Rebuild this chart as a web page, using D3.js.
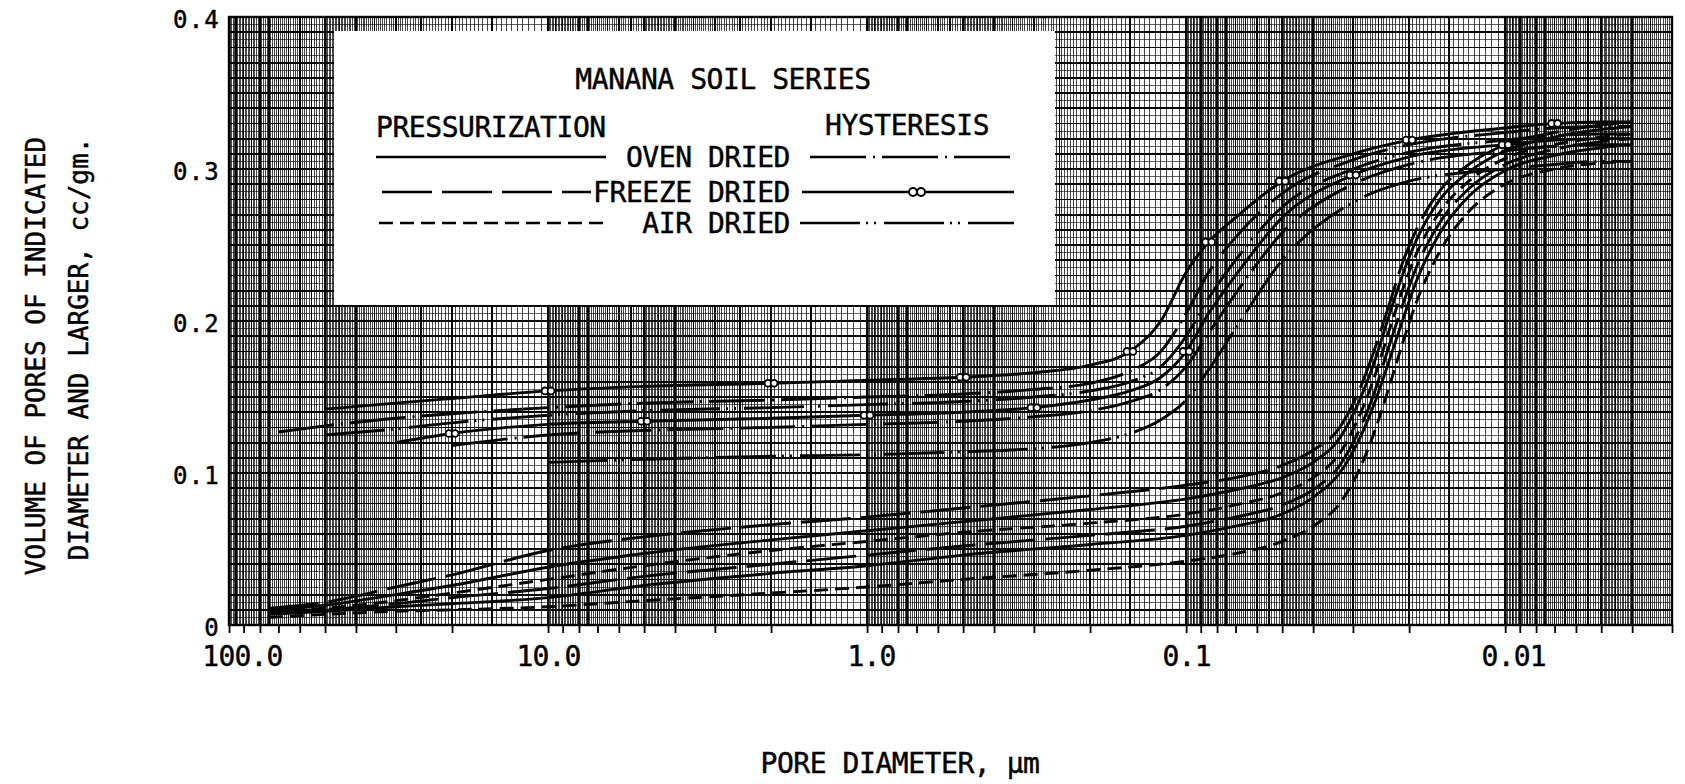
<!DOCTYPE html>
<html>
<head>
<meta charset="utf-8">
<script src="https://cdn.jsdelivr.net/npm/d3@7"></script>
<style>
  body { margin: 0; background: #fff; }
  svg text { font-family: "DejaVu Sans Mono", monospace; fill: #000; stroke: #000; stroke-width: 0.45px; }
</style>
</head>
<body>
<svg id="chart" width="1685" height="784"></svg>
<script>
// ---- data: cumulative pore volume (cc/gm) vs pore diameter (µm) ----

// diameters sampled along the pressurization (intrusion) curves
const pressDiameters = [75, 50, 30, 20, 10, 5, 2, 1, 0.5, 0.2, 0.1, 0.07, 0.05, 0.04, 0.033, 0.029, 0.026, 0.023, 0.021, 0.019, 0.016, 0.013, 0.01, 0.007, 0.005, 0.004];
const ovenPressA   = [0.010, 0.013, 0.020, 0.026, 0.038, 0.047, 0.056, 0.062, 0.068, 0.076, 0.083, 0.089, 0.097, 0.107, 0.123, 0.145, 0.170, 0.205, 0.230, 0.253, 0.280, 0.298, 0.312, 0.321, 0.326, 0.328];
const ovenPressB   = [0.007, 0.009, 0.012, 0.014, 0.018, 0.026, 0.034, 0.039, 0.046, 0.053, 0.059, 0.065, 0.073, 0.084, 0.100, 0.120, 0.143, 0.175, 0.200, 0.226, 0.258, 0.282, 0.299, 0.309, 0.314, 0.316];
const freezePressA = [0.011, 0.015, 0.025, 0.033, 0.049, 0.058, 0.066, 0.071, 0.077, 0.085, 0.092, 0.097, 0.105, 0.115, 0.130, 0.152, 0.178, 0.212, 0.238, 0.260, 0.286, 0.303, 0.316, 0.324, 0.329, 0.331];
const freezePressB = [0.008, 0.010, 0.014, 0.018, 0.024, 0.032, 0.040, 0.046, 0.052, 0.059, 0.065, 0.071, 0.079, 0.089, 0.105, 0.126, 0.150, 0.185, 0.210, 0.235, 0.265, 0.287, 0.303, 0.313, 0.318, 0.320];
const airPressA    = [0.009, 0.011, 0.016, 0.021, 0.030, 0.039, 0.049, 0.055, 0.061, 0.067, 0.073, 0.079, 0.087, 0.097, 0.113, 0.135, 0.160, 0.195, 0.220, 0.244, 0.272, 0.292, 0.307, 0.316, 0.321, 0.323];
const airPressB    = [0.005, 0.007, 0.009, 0.010, 0.012, 0.016, 0.021, 0.025, 0.030, 0.036, 0.042, 0.047, 0.055, 0.065, 0.080, 0.100, 0.124, 0.158, 0.185, 0.212, 0.246, 0.272, 0.290, 0.300, 0.304, 0.305];

// diameters sampled along the hysteresis (extrusion) curves; null = not measured
const hystDiameters = [70, 50, 30, 20, 10, 5, 2, 1, 0.5, 0.3, 0.2, 0.15, 0.12, 0.1, 0.085, 0.07, 0.05, 0.03, 0.02, 0.01, 0.007, 0.005, 0.004];
const ovenHystA   = [0.127, 0.131, 0.136, 0.139, 0.143, 0.146, 0.148, 0.150, 0.152, 0.155, 0.159, 0.167, 0.180, 0.205, 0.232, 0.255, 0.284, 0.306, 0.316, 0.324, 0.327, 0.328, 0.328];
const ovenHystB   = [null, null, null, 0.118, 0.125, 0.128, 0.130, 0.132, 0.134, 0.137, 0.141, 0.147, 0.155, 0.170, 0.192, 0.218, 0.258, 0.290, 0.303, 0.312, 0.315, 0.316, 0.316];
const freezeHystA = [null, 0.142, 0.146, 0.149, 0.154, 0.157, 0.159, 0.161, 0.163, 0.166, 0.171, 0.180, 0.200, 0.232, 0.252, 0.268, 0.292, 0.310, 0.319, 0.327, 0.330, 0.331, 0.331];
const freezeHystB = [null, null, 0.120, 0.126, 0.132, 0.134, 0.136, 0.138, 0.140, 0.143, 0.148, 0.154, 0.163, 0.180, 0.205, 0.230, 0.268, 0.296, 0.308, 0.316, 0.319, 0.320, 0.320];
const airHystA    = [null, 0.125, 0.129, 0.133, 0.138, 0.141, 0.143, 0.145, 0.147, 0.150, 0.154, 0.160, 0.170, 0.190, 0.215, 0.240, 0.275, 0.300, 0.311, 0.319, 0.322, 0.323, 0.323];
const airHystB    = [null, null, null, null, 0.107, 0.109, 0.111, 0.112, 0.114, 0.116, 0.120, 0.126, 0.135, 0.148, 0.168, 0.195, 0.240, 0.278, 0.292, 0.300, 0.303, 0.305, 0.305];

// diameters at which the freeze-dried hysteresis points are marked
const freezeMarkA = [10, 2, 0.5, 0.15, 0.085, 0.05, 0.02, 0.007];
const freezeMarkB = [20, 5, 1, 0.3, 0.1, 0.03, 0.01];

// axis labels
const xTickValues = [100, 10, 1, 0.1, 0.01];
const xTickLabels = ["100.0", "10.0", "1.0", "0.1", "0.01"];
const yTickValues = [0, 0.1, 0.2, 0.3, 0.4];
const yTickLabels = ["0", "0.1", "0.2", "0.3", "0.4"];
const treatments = ["OVEN DRIED", "FREEZE DRIED", "AIR DRIED"];

// ---- layout ----
const svg = d3.select("#chart");
const pL = 229, pR = 1672, pT = 17, pB = 625;
const x = d3.scaleLog().domain([100, 0.003]).range([pL, pR]);
const y = d3.scaleLinear().domain([0, 0.4]).range([pB, pT]);

// dash patterns per treatment
const pressDash = { oven: null, freeze: "50,10", air: "14,7" };
const hystDash  = { oven: "56,7,2,7", freeze: null, air: "60,6,2,6,2,8" };

// ---- graph-paper grid ----
const grid = svg.append("g").attr("shape-rendering", "crispEdges");
const gridXs = [];
for (let e = -3; e <= 1; e++) {
  const base = Math.pow(10, e);
  for (let m = 100; m < 1000; m += (m < 500 ? 5 : 10)) {
    const v = base * m / 100;
    if (v < 0.003 - 1e-9 || v > 100 + 1e-9) continue;
    const w = (m % 100 === 0) ? (m === 100 || m === 500 ? 2.2 : 1.6) : (m % 50 === 0 ? 1.3 : 1);
    gridXs.push({ v, w });
  }
}
grid.selectAll("line.gx").data(gridXs).join("line")
  .attr("x1", d => x(d.v)).attr("x2", d => x(d.v))
  .attr("y1", pT).attr("y2", pB)
  .attr("stroke", "#000").attr("stroke-width", d => d.w)
  .attr("stroke-opacity", d => d.w < 1.2 ? 0.72 : 1);

const gridYs = d3.range(0, 81).map(i => ({ v: i * 0.005, w: i % 2 === 0 ? 1.8 : 1 }));
grid.selectAll("line.gy").data(gridYs).join("line")
  .attr("x1", pL).attr("x2", pR)
  .attr("y1", d => y(d.v)).attr("y2", d => y(d.v))
  .attr("stroke", "#000").attr("stroke-width", d => d.w)
  .attr("stroke-opacity", d => d.w < 1.2 ? 0.6 : 1);

// plot frame
svg.append("rect").attr("x", pL).attr("y", pT)
  .attr("width", pR - pL).attr("height", pB - pT)
  .attr("fill", "none").attr("stroke", "#000").attr("stroke-width", 2.4);

// ---- axes ----
const xTicks = [];
for (let e = -3; e <= 1; e++) for (let m = 1; m <= 9; m++) {
  const v = m * Math.pow(10, e);
  if (v >= 0.003 - 1e-9 && v <= 100 + 1e-9) xTicks.push(v);
}
xTicks.push(100);
const xAxis = svg.append("g").attr("transform", `translate(0,${pB})`)
  .call(d3.axisBottom(x).tickValues(xTicks).tickSize(8)
    .tickFormat(d => { const i = xTickValues.findIndex(t => Math.abs(t - d) / t < 1e-6); return i >= 0 ? xTickLabels[i] : ""; }));
xAxis.select(".domain").remove();
xAxis.selectAll(".tick line").attr("stroke", "#000").attr("stroke-width", 1.8);
xAxis.selectAll(".tick text")
  .attr("y", 41).attr("dy", 0)
  .attr("dx", d => Math.abs(d - 100) < 1e-6 ? 13 : (Math.abs(d - 1) < 1e-6 ? 4 : (Math.abs(d - 0.01) < 1e-6 ? 8 : 0)))
  .style("font-size", "28px").style("letter-spacing", "-0.8px")
  .style("font-family", "'DejaVu Sans Mono', monospace");

const yAxis = svg.append("g").attr("transform", `translate(${pL},0)`)
  .call(d3.axisLeft(y).tickValues(yTickValues).tickSize(0).tickPadding(9)
    .tickFormat((d, i) => yTickLabels[i]));
yAxis.select(".domain").remove();
yAxis.selectAll(".tick text")
  .attr("dy", "0.45em")
  .style("font-size", "24px").style("letter-spacing", "1.2px")
  .style("font-family", "'DejaVu Sans Mono', monospace");

// axis titles
svg.append("text").attr("x", 900).attr("y", 773).attr("text-anchor", "middle")
  .style("font-size", "28px").style("letter-spacing", "-0.45px")
  .text("PORE DIAMETER, µm");
const yTitle = svg.append("g");
yTitle.append("text").attr("transform", "translate(36,356) rotate(-90)")
  .attr("text-anchor", "middle").attr("dy", "0.36em")
  .style("font-size", "26px").text("VOLUME OF PORES OF INDICATED");
yTitle.append("text").attr("transform", "translate(79,349) rotate(-90)")
  .attr("text-anchor", "middle").attr("dy", "0.36em")
  .style("font-size", "26px").text("DIAMETER AND LARGER, cc/gm.");

// ---- legend panel (covers the grid) ----
const lg = svg.append("g");
lg.append("rect").attr("x", 334).attr("y", 31).attr("width", 721).attr("height", 274).attr("fill", "#fff");
const big = s => s.style("font-size", "28px").style("letter-spacing", "-0.45px");
lg.append("text").attr("x", 723).attr("y", 89).attr("text-anchor", "middle").call(big).text("MANANA SOIL SERIES");
lg.append("text").attr("x", 376).attr("y", 137).call(big).text("PRESSURIZATION");
lg.append("text").attr("x", 825).attr("y", 135).call(big).text("HYSTERESIS");
const rowY = [157, 192, 223];
const keys = ["oven", "freeze", "air"];
const leftSpan = [[376, 606], [382, 591], [379, 606]];
const rightSpan = [[810, 1014], [802, 1014], [800, 1014]];
treatments.forEach((t, i) => {
  lg.append("text").attr("x", 790).attr("y", rowY[i] + 10).attr("text-anchor", "end").call(big).text(t);
  lg.append("line").attr("x1", leftSpan[i][0]).attr("x2", leftSpan[i][1]).attr("y1", rowY[i]).attr("y2", rowY[i])
    .attr("stroke", "#000").attr("stroke-width", 2.6).attr("stroke-dasharray", pressDash[keys[i]]);
  lg.append("line").attr("x1", rightSpan[i][0]).attr("x2", rightSpan[i][1]).attr("y1", rowY[i]).attr("y2", rowY[i])
    .attr("stroke", "#000").attr("stroke-width", 2.6).attr("stroke-dasharray", hystDash[keys[i]]);
});
// double-circle marker sample
[913, 921].forEach(cx => lg.append("circle").attr("cx", cx).attr("cy", rowY[1]).attr("r", 4)
  .attr("fill", "#fff").attr("stroke", "#000").attr("stroke-width", 2));

// ---- curves ----
const line = d3.line()
  .x(d => x(d.d)).y(d => y(d.v))
  .curve(d3.curveMonotoneX);
const toPts = (ds, vs) => ds.map((d, i) => ({ d, v: vs[i] }));

const curves = [
  { vals: ovenPressA,   ds: pressDiameters, dash: pressDash.oven },
  { vals: ovenPressB,   ds: pressDiameters, dash: pressDash.oven },
  { vals: freezePressA, ds: pressDiameters, dash: pressDash.freeze },
  { vals: freezePressB, ds: pressDiameters, dash: pressDash.freeze },
  { vals: airPressA,    ds: pressDiameters, dash: pressDash.air },
  { vals: airPressB,    ds: pressDiameters, dash: pressDash.air },
  { vals: ovenHystA,    ds: hystDiameters,  dash: hystDash.oven },
  { vals: ovenHystB,    ds: hystDiameters,  dash: hystDash.oven },
  { vals: freezeHystA,  ds: hystDiameters,  dash: hystDash.freeze },
  { vals: freezeHystB,  ds: hystDiameters,  dash: hystDash.freeze },
  { vals: airHystA,     ds: hystDiameters,  dash: hystDash.air },
  { vals: airHystB,     ds: hystDiameters,  dash: hystDash.air }
];
const plot = svg.append("g");
plot.selectAll("path.curve").data(curves).join("path")
  .attr("d", c => line(toPts(c.ds, c.vals).filter(p => p.v != null)))
  .attr("fill", "none").attr("stroke", "#000").attr("stroke-width", 2.9)
  .attr("stroke-dasharray", c => c.dash);

// markers on the freeze-dried hysteresis curves
const markPts = [];
[[freezeMarkA, freezeHystA], [freezeMarkB, freezeHystB]].forEach(([marks, vals]) => {
  marks.forEach(dm => {
    const i = hystDiameters.indexOf(dm);
    if (i >= 0 && vals[i] != null) markPts.push({ d: dm, v: vals[i] });
  });
});
const mk = plot.selectAll("g.mark").data(markPts).join("g")
  .attr("transform", p => `translate(${x(p.d)},${y(p.v)})`);
[-3, 3].forEach(dx => mk.append("circle").attr("cx", dx).attr("r", 3.4)
  .attr("fill", "#fff").attr("stroke", "#000").attr("stroke-width", 1.8));
</script>
</body>
</html>
